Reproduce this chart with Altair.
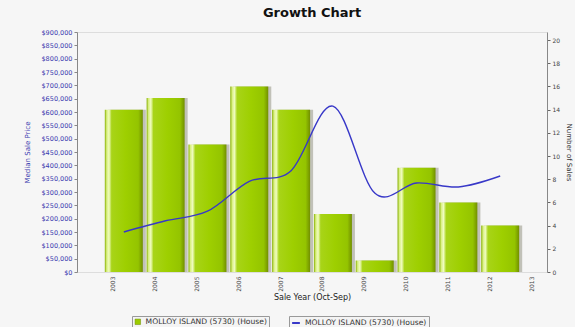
import altair as alt
import pandas as pd

years = [2003, 2004, 2005, 2006, 2007, 2008, 2009, 2010, 2011, 2012]
sales = [14, 15, 11, 16, 14, 5, 1, 9, 6, 4]
prices = [150000, 192000, 228000, 340000, 380000, 622000, 296000, 334000, 319000, 360000]
year_ticks = [2003, 2004, 2005, 2006, 2007, 2008, 2009, 2010, 2011, 2012, 2013]
price_ticks = list(range(0, 900001, 50000))
sales_ticks = list(range(0, 21, 2))
series_name = "MOLLOY ISLAND (5730) (House)"

df = pd.DataFrame({"year": years, "sales": sales, "price": prices,
                   "bar_series": [series_name] * len(years),
                   "line_series": [series_name + " "] * len(years)})

FONT = "DejaVu Sans"
BLUE = "#3c3cb0"

x_enc = alt.X("year:Q", scale=alt.Scale(domain=[2002, 2013], nice=False, zero=False),
              axis=alt.Axis(values=year_ticks, format="d", labelAngle=-90, labelOffset=-11,
                            labelFontSize=6, labelColor="#444", labelPadding=4,
                            ticks=False, domain=False, grid=False,
                            title="Sale Year (Oct-Sep)", titleFontSize=8, titleFontWeight="normal",
                            titleColor="#222", titlePadding=2))

y_bar_scale = alt.Scale(domain=[0, 20.7], nice=False)
gradient = alt.Gradient(
    gradient="linear", x1=0, x2=1, y1=0, y2=0,
    stops=[alt.GradientStop(offset=0, color="#86ae00"),
           alt.GradientStop(offset=0.05, color="#d8f080"),
           alt.GradientStop(offset=0.11, color="#f0fcc0"),
           alt.GradientStop(offset=0.18, color="#a8d418"),
           alt.GradientStop(offset=0.55, color="#9ecf00"),
           alt.GradientStop(offset=0.88, color="#94c400"),
           alt.GradientStop(offset=1, color="#728f00")])

shadow = alt.Chart(df).mark_bar(width=38, xOffset=3, color="#8c8c7a", opacity=0.5).encode(
    x=x_enc,
    y=alt.Y("sales:Q", scale=y_bar_scale, axis=None),
)

bars = alt.Chart(df).mark_bar(width=38, fill=gradient).encode(
    x=x_enc,
    y=alt.Y("sales:Q", scale=y_bar_scale,
            axis=alt.Axis(orient="right", values=sales_ticks, format="d", labelFontSize=6,
                          labelColor="#444", tickColor="#666", tickSize=3, domainColor="#888",
                          grid=False, title="Number of Sales", titleFontSize=7,
                          titleFontWeight="normal", titleColor="#333", titleAngle=90,
                          titlePadding=6)),
    color=alt.Color("bar_series:N", scale=alt.Scale(range=["#9ccc00"]),
                    legend=alt.Legend(orient="none", legendX=55, legendY=284, title=None,
                                      symbolType="square", symbolSize=30,
                                      labelFontSize=7.6, labelColor="#333", labelFont=FONT,
                                      symbolStrokeColor="#6c8a00", symbolStrokeWidth=0.5,
                                      strokeColor="#999999", padding=2, fillColor="#f4f4f4")),
)

line = alt.Chart(df).mark_line(interpolate="cardinal", strokeWidth=1.4).encode(
    x=x_enc,
    y=alt.Y("price:Q", scale=alt.Scale(domain=[0, 900000], nice=False),
            axis=alt.Axis(orient="left", values=price_ticks, format="$,.0f", labelFontSize=6.5,
                          labelColor=BLUE, tickColor="#888", tickSize=3, domainColor="#888",
                          grid=False, title="Median Sale Price", titleFontSize=7,
                          titleFontWeight="normal", titleColor=BLUE, titlePadding=10)),
    stroke=alt.Stroke("line_series:N", scale=alt.Scale(range=["#3838c8"]),
                      legend=alt.Legend(orient="none", legendX=212, legendY=284, title=None,
                                        symbolType="stroke", symbolStrokeWidth=2, symbolSize=60,
                                        labelFontSize=7.6, labelColor="#333", labelFont=FONT,
                                        strokeColor="#999999", padding=2, fillColor="#f4f4f4")),
)

chart = alt.layer(shadow, bars, line).resolve_scale(
    y="independent", color="independent", stroke="independent"
).properties(
    width=470, height=240,
    title=alt.TitleParams("Growth Chart", fontSize=13, fontWeight="bold", font=FONT,
                          color="#111", anchor="middle", offset=9),
    padding={"left": 77, "top": 32, "right": 28, "bottom": 55},
    autosize=alt.AutoSizeParams(type="none"),
    background="#f6f6f6",
).configure_view(
    fill="white", stroke="#aaaaaa", strokeWidth=1
).configure(font=FONT)

chart.save("out.html", embed_options={"renderer": "svg", "actions": False})
